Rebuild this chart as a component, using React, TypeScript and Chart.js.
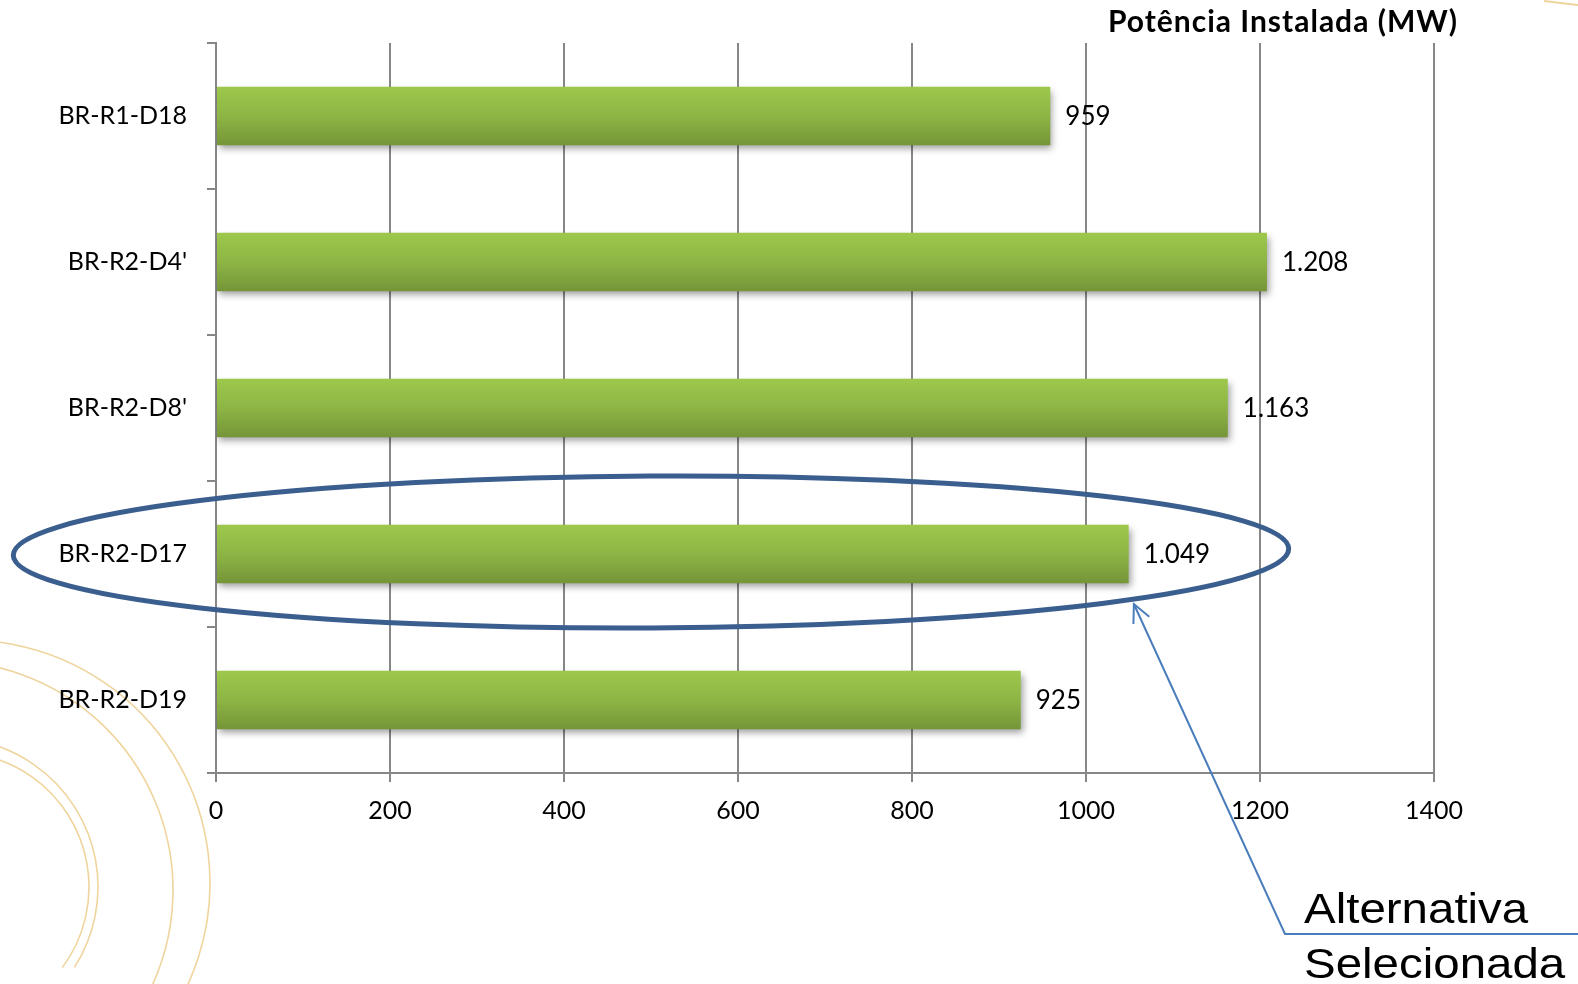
import React, { useEffect, useRef } from "react";
import { Chart, registerables } from "chart.js";

Chart.register(...registerables);

// Installed capacity per alternative (MW)
const categories = ["BR-R1-D18", "BR-R2-D4'", "BR-R2-D8'", "BR-R2-D17", "BR-R2-D19"];
const potenciaMW = [959, 1208, 1163, 1049, 925];
const xTicks = [0, 200, 400, 600, 800, 1000, 1200, 1400];
const chartTitle = "Potência Instalada (MW)";
const calloutLines = ["Alternativa", "Selecionada"];
const selectedIndex = 3;

const W = 1578;
const H = 984;
const FONT = "Lato, 'Open Sans', sans-serif";
const AXIS_GRAY = "#878787";
const ARC_TAN = "rgba(236, 205, 140, 0.85)";

// 1208 -> "1.208"
const fmt = (v: number) => String(Math.round(v)).replace(/\B(?=(\d{3})+(?!\d))/g, ".");

const barShadow = {
  id: "barShadow",
  beforeDatasetsDraw(chart: any) {
    const c = chart.ctx;
    c.save();
    c.shadowColor = "rgba(0,0,0,0.38)";
    c.shadowBlur = 7;
    c.shadowOffsetX = 2;
    c.shadowOffsetY = 4;
  },
  afterDatasetsDraw(chart: any) {
    chart.ctx.restore();
  },
};

const decorations = {
  id: "decorations",
  beforeDraw(chart: any) {
    const c = chart.ctx;
    c.save();
    c.strokeStyle = ARC_TAN;
    c.lineWidth = 1.6;
    // sweeping arcs in the lower-left corner
    const arcs = [
      { cx: -33, cy: 883, r: 243, a0: -1.7, a1: 0.75 },
      { cx: -56, cy: 890, r: 229, a0: -1.6, a1: 0.45 },
      { cx: -51, cy: 887, r: 149, a0: -1.75, a1: 0.57 },
      { cx: -46, cy: 887, r: 135, a0: -1.75, a1: 0.64 },
    ];
    arcs.forEach((a) => {
      c.beginPath();
      c.arc(a.cx, a.cy, a.r, a.a0, a.a1);
      c.stroke();
    });
    // small arc fragment at the top-right corner
    c.lineWidth = 2;
    c.beginPath();
    c.moveTo(1544, 1);
    c.quadraticCurveTo(1560, 3, 1578, 5);
    c.stroke();
    c.restore();
  },
  afterDraw(chart: any) {
    const c = chart.ctx;
    const xs = chart.scales.x;
    const ys = chart.scales.y;
    c.save();

    // value labels at the end of each bar
    c.fillStyle = "#000";
    c.font = `26px ${FONT}`;
    c.textAlign = "left";
    c.textBaseline = "middle";
    potenciaMW.forEach((v, i) => {
      c.fillText(fmt(v), xs.getPixelForValue(v) + 15, ys.getPixelForValue(i) + 1);
    });

    // title
    c.font = `bold 30px ${FONT}`;
    (c as any).letterSpacing = "1px";
    c.textAlign = "right";
    c.fillText(chartTitle, 1458, 22);
    (c as any).letterSpacing = "0px";

    // ellipse around the selected alternative
    const catH = ys.getPixelForValue(1) - ys.getPixelForValue(0);
    const ex0 = xs.getPixelForValue(-233);
    const ex1 = xs.getPixelForValue(1233);
    const ecx = (ex0 + ex1) / 2;
    const ecy = ys.getPixelForValue(selectedIndex) - 2;
    c.strokeStyle = "#3A5E8E";
    c.lineWidth = 5;
    c.beginPath();
    c.ellipse(ecx, ecy, (ex1 - ex0) / 2, catH * 0.52, -0.005, 0, Math.PI * 2);
    c.stroke();

    // callout leader with open arrowhead
    const tipX = xs.getPixelForValue(1055);
    const tipY = ecy + 52;
    const elbowX = 1285;
    const elbowY = 934;
    c.strokeStyle = "#4A7DBA";
    c.lineWidth = 2;
    c.beginPath();
    c.moveTo(W, elbowY);
    c.lineTo(elbowX, elbowY);
    c.lineTo(tipX, tipY);
    c.stroke();
    const ang = Math.atan2(elbowY - tipY, elbowX - tipX);
    const hl = 20;
    c.beginPath();
    c.moveTo(tipX + hl * Math.cos(ang - 0.45), tipY + hl * Math.sin(ang - 0.45));
    c.lineTo(tipX, tipY);
    c.lineTo(tipX + hl * Math.cos(ang + 0.45), tipY + hl * Math.sin(ang + 0.45));
    c.stroke();

    // callout text (slightly widened sans)
    c.fillStyle = "#000";
    c.font = `42px 'Liberation Sans', Arial, sans-serif`;
    c.textAlign = "left";
    c.textBaseline = "alphabetic";
    c.save();
    c.translate(1304, 0);
    c.scale(1.13, 1);
    c.fillText(calloutLines[0], 0, 923);
    c.fillText(calloutLines[1], 0, 978);
    c.restore();

    c.restore();
  },
};

export default function App() {
  const ref = useRef<HTMLCanvasElement | null>(null);

  useEffect(() => {
    if (!ref.current) return;
    const chart = new Chart(ref.current, {
      type: "bar",
      data: {
        labels: categories,
        datasets: [
          {
            data: potenciaMW,
            categoryPercentage: 0.8,
            barPercentage: 0.5,
            borderWidth: 0,
            backgroundColor: (ctx: any) => {
              const ch = ctx.chart;
              if (!ch.chartArea || ctx.type !== "data") return "#8CB043";
              const ys = ch.scales.y;
              const catH = ys.getPixelForValue(1) - ys.getPixelForValue(0);
              const cy = ys.getPixelForValue(ctx.dataIndex);
              const half = catH * 0.2;
              const g = ch.ctx.createLinearGradient(0, cy - half, 0, cy + half);
              g.addColorStop(0, "#9DC84C");
              g.addColorStop(0.5, "#8DB545");
              g.addColorStop(1, "#759538");
              return g;
            },
          },
        ],
      },
      options: {
        indexAxis: "y",
        responsive: false,
        animation: false,
        events: [],
        layout: { padding: { top: 43, right: 144, left: 0, bottom: 0 } },
        plugins: {
          legend: { display: false },
          tooltip: { enabled: false },
          title: { display: false },
        },
        scales: {
          x: {
            type: "linear",
            min: 0,
            max: 1400,
            afterBuildTicks: (s: any) => {
              s.ticks = xTicks.map((v) => ({ value: v }));
            },
            ticks: {
              color: "#000",
              font: { family: FONT, size: 25 },
              padding: 14,
              maxRotation: 0,
              callback: (v: any) => String(v),
            },
            grid: { color: AXIS_GRAY, lineWidth: 2, tickLength: 9, drawTicks: true },
            border: { color: AXIS_GRAY, width: 2 },
            afterFit: (s: any) => {
              s.height = 211;
            },
          },
          y: {
            type: "category",
            grid: {
              drawOnChartArea: false,
              color: AXIS_GRAY,
              lineWidth: 2,
              tickLength: 9,
              offset: true,
            },
            border: { color: AXIS_GRAY, width: 2 },
            ticks: {
              color: "#000",
              font: { family: FONT, size: 25 },
              padding: 20,
            },
            afterFit: (s: any) => {
              s.width = 216;
            },
          },
        },
      },
      plugins: [barShadow, decorations],
    } as any);
    return () => chart.destroy();
  }, []);

  return (
    <div style={{ position: "fixed", left: 0, top: 0, width: W, height: H, background: "#fff" }}>
      <canvas ref={ref} width={W} height={H} style={{ display: "block", width: W, height: H }} />
    </div>
  );
}
